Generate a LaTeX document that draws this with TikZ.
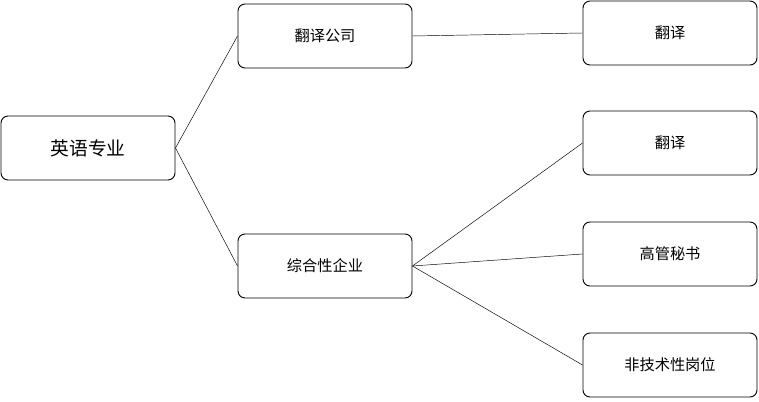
\documentclass[tikz,border=0pt]{standalone}
\usepackage{fontspec}
\setmainfont{Noto Sans CJK SC}
\usetikzlibrary{positioning}
\tikzset{
    box/.style={draw, thick, rounded corners=6pt, minimum width=174*0.03cm, minimum height=64*0.03cm, inner sep=0pt, font=\fontsize{13}{15}\selectfont},
    bigbox/.style={box, font=\fontsize{16}{18}\selectfont},
    link/.style={thin}
}
\begin{document}
\begin{tikzpicture}[x=0.03cm, y=-0.03cm]
    \useasboundingbox (0,0) rectangle (759,402);
    % Root
    \node[bigbox] (major) at (88,148) {英语专业};
    % Employers
    \node[box] (agency) at (325,36) {翻译公司};
    \node[box] (firm) at (325,266) {综合性企业};
    % Jobs
    \node[box] (trans1) at (670,33) {翻译};
    \node[box] (trans2) at (670,143) {翻译};
    \node[box] (secretary) at (670,254) {高管秘书};
    \node[box] (nontech) at (670,365) {非技术性岗位};
    % Connectors
    \draw[link] (major.east) -- (agency.west);
    \draw[link] (major.east) -- (firm.west);
    \draw[link] (agency.east) -- (trans1.west);
    \draw[link] (firm.east) -- (trans2.west);
    \draw[link] (firm.east) -- (secretary.west);
    \draw[link] (firm.east) -- (nontech.west);
\end{tikzpicture}
\end{document}
